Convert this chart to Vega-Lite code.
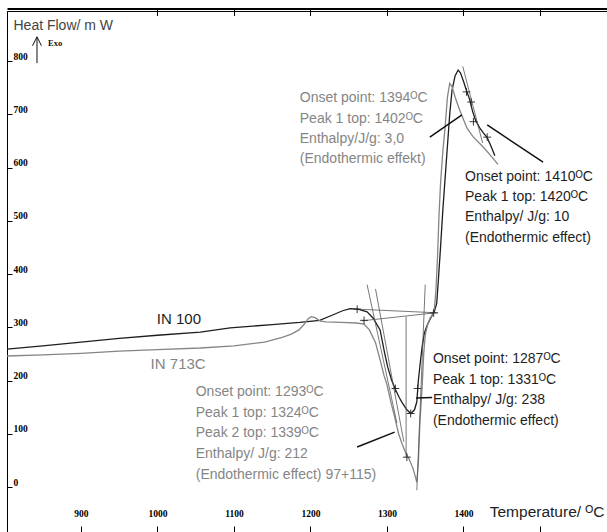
{
  "$schema": "https://vega.github.io/schema/vega-lite/v6.json",
  "width": 600,
  "height": 521,
  "autosize": {"type": "none"},
  "padding": {"left": 7, "top": 11, "right": 0, "bottom": 0},
  "background": "white",
  "config": {"view": {"stroke": "black", "strokeWidth": 1}, "font": "Liberation Sans"},
  "datasets": {
    "curves": [
      {"series": "IN 100", "T": 803, "H": 259}, {"series": "IN 100", "T": 850, "H": 265}, {"series": "IN 100", "T": 900, "H": 272}, {"series": "IN 100", "T": 950, "H": 279}, {"series": "IN 100", "T": 1000, "H": 285}, {"series": "IN 100", "T": 1056, "H": 291}, {"series": "IN 100", "T": 1095, "H": 299}, {"series": "IN 100", "T": 1150, "H": 305}, {"series": "IN 100", "T": 1186, "H": 309}, {"series": "IN 100", "T": 1212, "H": 313}, {"series": "IN 100", "T": 1229, "H": 323}, {"series": "IN 100", "T": 1242, "H": 331}, {"series": "IN 100", "T": 1252, "H": 335}, {"series": "IN 100", "T": 1262, "H": 334}, {"series": "IN 100", "T": 1274, "H": 329}, {"series": "IN 100", "T": 1282, "H": 317}, {"series": "IN 100", "T": 1291, "H": 295}, {"series": "IN 100", "T": 1297, "H": 251}, {"series": "IN 100", "T": 1301, "H": 225}, {"series": "IN 100", "T": 1306, "H": 201}, {"series": "IN 100", "T": 1311, "H": 183}, {"series": "IN 100", "T": 1316, "H": 168}, {"series": "IN 100", "T": 1320, "H": 158}, {"series": "IN 100", "T": 1326, "H": 145}, {"series": "IN 100", "T": 1331, "H": 138}, {"series": "IN 100", "T": 1336, "H": 145}, {"series": "IN 100", "T": 1339, "H": 160}, {"series": "IN 100", "T": 1341, "H": 200}, {"series": "IN 100", "T": 1344, "H": 240}, {"series": "IN 100", "T": 1346, "H": 264}, {"series": "IN 100", "T": 1349, "H": 290}, {"series": "IN 100", "T": 1352, "H": 302}, {"series": "IN 100", "T": 1356, "H": 314}, {"series": "IN 100", "T": 1359, "H": 322}, {"series": "IN 100", "T": 1362, "H": 330}, {"series": "IN 100", "T": 1365, "H": 345}, {"series": "IN 100", "T": 1367, "H": 385}, {"series": "IN 100", "T": 1370, "H": 450}, {"series": "IN 100", "T": 1373, "H": 520}, {"series": "IN 100", "T": 1376, "H": 580}, {"series": "IN 100", "T": 1379, "H": 640}, {"series": "IN 100", "T": 1382, "H": 700}, {"series": "IN 100", "T": 1385, "H": 745}, {"series": "IN 100", "T": 1389, "H": 772}, {"series": "IN 100", "T": 1393, "H": 783}, {"series": "IN 100", "T": 1396, "H": 778}, {"series": "IN 100", "T": 1400, "H": 762}, {"series": "IN 100", "T": 1404, "H": 744}, {"series": "IN 100", "T": 1408, "H": 728}, {"series": "IN 100", "T": 1412, "H": 705}, {"series": "IN 100", "T": 1416, "H": 688}, {"series": "IN 100", "T": 1421, "H": 675}, {"series": "IN 100", "T": 1426, "H": 665}, {"series": "IN 100", "T": 1431, "H": 656}, {"series": "IN 100", "T": 1436, "H": 640}, {"series": "IN 100", "T": 1441, "H": 622},
      {"series": "IN 713C", "T": 803, "H": 246}, {"series": "IN 713C", "T": 850, "H": 248}, {"series": "IN 713C", "T": 900, "H": 251}, {"series": "IN 713C", "T": 950, "H": 255}, {"series": "IN 713C", "T": 1000, "H": 258}, {"series": "IN 713C", "T": 1056, "H": 261}, {"series": "IN 713C", "T": 1100, "H": 265}, {"series": "IN 713C", "T": 1140, "H": 272}, {"series": "IN 713C", "T": 1163, "H": 281}, {"series": "IN 713C", "T": 1175, "H": 287}, {"series": "IN 713C", "T": 1185, "H": 295}, {"series": "IN 713C", "T": 1192, "H": 306}, {"series": "IN 713C", "T": 1197, "H": 316}, {"series": "IN 713C", "T": 1201, "H": 320}, {"series": "IN 713C", "T": 1206, "H": 318}, {"series": "IN 713C", "T": 1212, "H": 312}, {"series": "IN 713C", "T": 1220, "H": 310}, {"series": "IN 713C", "T": 1240, "H": 309}, {"series": "IN 713C", "T": 1260, "H": 308}, {"series": "IN 713C", "T": 1270, "H": 306}, {"series": "IN 713C", "T": 1277, "H": 295}, {"series": "IN 713C", "T": 1285, "H": 271}, {"series": "IN 713C", "T": 1291, "H": 239}, {"series": "IN 713C", "T": 1296, "H": 210}, {"series": "IN 713C", "T": 1300, "H": 192}, {"series": "IN 713C", "T": 1305, "H": 160}, {"series": "IN 713C", "T": 1311, "H": 126}, {"series": "IN 713C", "T": 1315, "H": 101}, {"series": "IN 713C", "T": 1320, "H": 80}, {"series": "IN 713C", "T": 1324, "H": 66}, {"series": "IN 713C", "T": 1329, "H": 52}, {"series": "IN 713C", "T": 1334, "H": 35}, {"series": "IN 713C", "T": 1337, "H": 20}, {"series": "IN 713C", "T": 1339, "H": 9}, {"series": "IN 713C", "T": 1341, "H": 45}, {"series": "IN 713C", "T": 1343, "H": 120}, {"series": "IN 713C", "T": 1346, "H": 190}, {"series": "IN 713C", "T": 1348, "H": 250}, {"series": "IN 713C", "T": 1350, "H": 285}, {"series": "IN 713C", "T": 1353, "H": 305}, {"series": "IN 713C", "T": 1356, "H": 316}, {"series": "IN 713C", "T": 1359, "H": 323}, {"series": "IN 713C", "T": 1362, "H": 335}, {"series": "IN 713C", "T": 1364, "H": 370}, {"series": "IN 713C", "T": 1366, "H": 430}, {"series": "IN 713C", "T": 1368, "H": 510}, {"series": "IN 713C", "T": 1370, "H": 570}, {"series": "IN 713C", "T": 1373, "H": 630}, {"series": "IN 713C", "T": 1376, "H": 676}, {"series": "IN 713C", "T": 1379, "H": 732}, {"series": "IN 713C", "T": 1382, "H": 758}, {"series": "IN 713C", "T": 1385, "H": 752}, {"series": "IN 713C", "T": 1390, "H": 728}, {"series": "IN 713C", "T": 1395, "H": 708}, {"series": "IN 713C", "T": 1400, "H": 690}, {"series": "IN 713C", "T": 1405, "H": 673}, {"series": "IN 713C", "T": 1413, "H": 657}, {"series": "IN 713C", "T": 1426, "H": 638}, {"series": "IN 713C", "T": 1437, "H": 620}, {"series": "IN 713C", "T": 1445, "H": 606}
    ],
    "construct": [
      {"seg": "c1", "T": 1261, "H": 334}, {"seg": "c1", "T": 1367, "H": 327},
      {"seg": "c2", "T": 1267, "H": 312}, {"seg": "c2", "T": 1362, "H": 327},
      {"seg": "c3", "T": 1274, "H": 380}, {"seg": "c3", "T": 1313, "H": 120},
      {"seg": "c4", "T": 1285, "H": 372}, {"seg": "c4", "T": 1322, "H": 85},
      {"seg": "c5", "T": 1325, "H": 320}, {"seg": "c5", "T": 1325.01, "H": 56},
      {"seg": "c6", "T": 1339, "H": -6}, {"seg": "c6", "T": 1350, "H": 380},
      {"seg": "c7", "T": 1399, "H": 790}, {"seg": "c7", "T": 1425, "H": 646}
    ],
    "leaders": [
      {"seg": "L1", "T": 1261, "H": 75}, {"seg": "L1", "T": 1310, "H": 103},
      {"seg": "L2", "T": 1338, "H": 167}, {"seg": "L2", "T": 1359, "H": 168},
      {"seg": "L3", "T": 1356, "H": 657}, {"seg": "L3", "T": 1398, "H": 699},
      {"seg": "L4", "T": 1431, "H": 680}, {"seg": "L4", "T": 1504, "H": 610}
    ],
    "arrow": [
      {"T": 842.5, "H": 796}, {"T": 842.51, "H": 845}
    ],
    "arrowhead": [{"T": 842.5, "H": 837}],
    "exo": [{"T": 857, "H": 834, "label": "Exo"}],
    "crosses": [
      {"T": 1261, "H": 334}, {"T": 1270, "H": 313}, {"T": 1311, "H": 185}, {"T": 1326, "H": 56}, {"T": 1331, "H": 138}, {"T": 1340, "H": 185}, {"T": 1361, "H": 327}, {"T": 1404, "H": 742}, {"T": 1410, "H": 723}, {"T": 1413, "H": 686}, {"T": 1431, "H": 657}
    ],
    "notes": [
      {"series": "IN 713C", "T": 1186, "H": 730, "label": "Onset point: 1394ᴼC"},
      {"series": "IN 713C", "T": 1186, "H": 691, "label": "Peak 1 top: 1402ᴼC"},
      {"series": "IN 713C", "T": 1186, "H": 654, "label": "Enthalpy/J/g: 3,0"},
      {"series": "IN 713C", "T": 1186, "H": 616, "label": "(Endothermic effekt)"},
      {"series": "IN 100", "T": 1402, "H": 583, "label": "Onset point: 1410ᴼC"},
      {"series": "IN 100", "T": 1402, "H": 545, "label": "Peak 1 top: 1420ᴼC"},
      {"series": "IN 100", "T": 1402, "H": 507, "label": "Enthalpy/ J/g: 10"},
      {"series": "IN 100", "T": 1402, "H": 468, "label": "(Endothermic effect)"},
      {"series": "IN 100", "T": 1360, "H": 240, "label": "Onset point: 1287ᴼC"},
      {"series": "IN 100", "T": 1360, "H": 201, "label": "Peak 1 top: 1331ᴼC"},
      {"series": "IN 100", "T": 1360, "H": 163, "label": "Enthalpy/ J/g: 238"},
      {"series": "IN 100", "T": 1360, "H": 124, "label": "(Endothermic effect)"},
      {"series": "IN 713C", "T": 1050, "H": 178, "label": "Onset point: 1293ᴼC"},
      {"series": "IN 713C", "T": 1050, "H": 139, "label": "Peak 1 top: 1324ᴼC"},
      {"series": "IN 713C", "T": 1050, "H": 101, "label": "Peak 2 top: 1339ᴼC"},
      {"series": "IN 713C", "T": 1050, "H": 62, "label": "Enthalpy/ J/g: 212"},
      {"series": "IN 713C", "T": 1050, "H": 22, "label": "(Endothermic effect) 97+115)"}
    ],
    "names": [
      {"series": "IN 100", "T": 1028, "H": 316, "label": "IN 100"},
      {"series": "IN 713C", "T": 1027, "H": 231, "label": "IN 713C"}
    ]
  },
  "resolve": {"axis": {"x": "independent"}},
  "layer": [
    {
      "data": {"name": "curves"},
      "mark": {"type": "line", "strokeWidth": 1.3, "clip": true},
      "encoding": {
        "x": {"field": "T", "type": "quantitative", "scale": {"domain": [803.3, 1587.6], "nice": false, "zero": false},
          "axis": {"orient": "bottom", "values": [900, 1000, 1100, 1200, 1300, 1400, 1500], "labelExpr": "datum.value == 1500 ? '' : datum.label", "format": "d", "domain": false, "grid": false, "ticks": true, "tickSize": -6, "tickColor": "black", "labelPadding": -13, "labelBaseline": "middle", "labelFont": "Liberation Sans Narrow", "labelFontWeight": "bold", "labelFontSize": 9.5, "labelColor": "black", "labelOverlap": false, "labelFlush": false,
            "title": "Temperature/ ᴼC", "titleX": 597, "titleY": -16, "titleAlign": "right", "titleBaseline": "alphabetic", "titleFontSize": 15.5, "titleFontWeight": "normal", "titleColor": "#222", "titleFont": "Liberation Sans"}},
        "y": {"field": "H", "type": "quantitative", "scale": {"domain": [-84.5, 893.9], "nice": false, "zero": false},
          "axis": {"orient": "left", "values": [0, 100, 200, 300, 400, 500, 600, 700, 800], "format": "d", "domain": true, "domainColor": "black", "grid": false, "tickSize": -5, "tickColor": "black", "labelPadding": -1, "labelAlign": "left", "labelBaseline": "middle", "labelOffset": -5, "labelFont": "Liberation Sans Narrow", "labelFontWeight": "bold", "labelFontSize": 9.5, "labelColor": "black", "labelOverlap": false, "labelFlush": false,
            "title": "Heat Flow/ m W", "titleAngle": 0, "titleX": 6, "titleY": 14, "titleAlign": "left", "titleBaseline": "middle", "titleFontSize": 14, "titleFontWeight": "normal", "titleColor": "#444", "titleFont": "Liberation Sans"}},
        "color": {"field": "series", "type": "nominal", "scale": {"domain": ["IN 100", "IN 713C"], "range": ["#1e1e1e", "#858585"]}, "legend": null}
      }
    },
    {
      "data": {"name": "construct"},
      "mark": {"type": "line", "strokeWidth": 0.8, "color": "#555"},
      "encoding": {
        "x": {"field": "T", "type": "quantitative", "scale": {"domain": [803.3, 1587.6], "nice": false, "zero": false},
          "axis": {"orient": "top", "values": [1000, 1100, 1200, 1300, 1400, 1500], "labels": false, "domain": true, "domainWidth": 2, "domainColor": "black", "offset": 2.5, "ticks": true, "tickSize": -7, "tickColor": "black", "grid": false, "title": null}},
        "y": {"field": "H", "type": "quantitative", "scale": {"domain": [-84.5, 893.9], "nice": false, "zero": false}},
        "detail": {"field": "seg", "type": "nominal"}
      }
    },
    {
      "data": {"name": "leaders"},
      "mark": {"type": "line", "strokeWidth": 1.5, "color": "#111"},
      "encoding": {
        "x": {"field": "T", "type": "quantitative", "scale": {"domain": [803.3, 1587.6], "nice": false, "zero": false}, "axis": null},
        "y": {"field": "H", "type": "quantitative", "scale": {"domain": [-84.5, 893.9], "nice": false, "zero": false}},
        "detail": {"field": "seg", "type": "nominal"}
      }
    },
    {
      "data": {"name": "arrow"},
      "mark": {"type": "line", "strokeWidth": 1, "color": "#111"},
      "encoding": {
        "x": {"field": "T", "type": "quantitative", "scale": {"domain": [803.3, 1587.6], "nice": false, "zero": false}, "axis": null},
        "y": {"field": "H", "type": "quantitative", "scale": {"domain": [-84.5, 893.9], "nice": false, "zero": false}}
      }
    },
    {
      "data": {"name": "arrowhead"},
      "mark": {"type": "point", "shape": "M-1,1L0,-1L1,1", "filled": false, "size": 80, "stroke": "#111", "strokeWidth": 1, "opacity": 1},
      "encoding": {
        "x": {"field": "T", "type": "quantitative", "scale": {"domain": [803.3, 1587.6], "nice": false, "zero": false}, "axis": null},
        "y": {"field": "H", "type": "quantitative", "scale": {"domain": [-84.5, 893.9], "nice": false, "zero": false}}
      }
    },
    {
      "data": {"name": "crosses"},
      "mark": {"type": "point", "shape": "M-1,0L1,0M0,-1L0,1", "filled": false, "size": 60, "stroke": "#222", "strokeWidth": 0.9, "opacity": 1},
      "encoding": {
        "x": {"field": "T", "type": "quantitative", "scale": {"domain": [803.3, 1587.6], "nice": false, "zero": false}, "axis": null},
        "y": {"field": "H", "type": "quantitative", "scale": {"domain": [-84.5, 893.9], "nice": false, "zero": false}}
      }
    },
    {
      "data": {"name": "exo"},
      "mark": {"type": "text", "align": "left", "baseline": "middle", "fontSize": 8.5, "fontWeight": "bold", "font": "Liberation Sans Narrow", "color": "#111"},
      "encoding": {
        "x": {"field": "T", "type": "quantitative", "scale": {"domain": [803.3, 1587.6], "nice": false, "zero": false}, "axis": null},
        "y": {"field": "H", "type": "quantitative", "scale": {"domain": [-84.5, 893.9], "nice": false, "zero": false}},
        "text": {"field": "label"}
      }
    },
    {
      "data": {"name": "notes"},
      "mark": {"type": "text", "align": "left", "baseline": "middle", "fontSize": 14, "font": "Liberation Sans"},
      "encoding": {
        "x": {"field": "T", "type": "quantitative", "scale": {"domain": [803.3, 1587.6], "nice": false, "zero": false}, "axis": null},
        "y": {"field": "H", "type": "quantitative", "scale": {"domain": [-84.5, 893.9], "nice": false, "zero": false}},
        "text": {"field": "label"},
        "color": {"field": "series", "type": "nominal", "scale": {"domain": ["IN 100", "IN 713C"], "range": ["#1e1e1e", "#858585"]}, "legend": null}
      }
    },
    {
      "data": {"name": "names"},
      "mark": {"type": "text", "align": "center", "baseline": "middle", "fontSize": 15, "font": "Liberation Sans"},
      "encoding": {
        "x": {"field": "T", "type": "quantitative", "scale": {"domain": [803.3, 1587.6], "nice": false, "zero": false}, "axis": null},
        "y": {"field": "H", "type": "quantitative", "scale": {"domain": [-84.5, 893.9], "nice": false, "zero": false}},
        "text": {"field": "label"},
        "color": {"field": "series", "type": "nominal", "scale": {"domain": ["IN 100", "IN 713C"], "range": ["#1e1e1e", "#858585"]}, "legend": null}
      }
    }
  ]
}
